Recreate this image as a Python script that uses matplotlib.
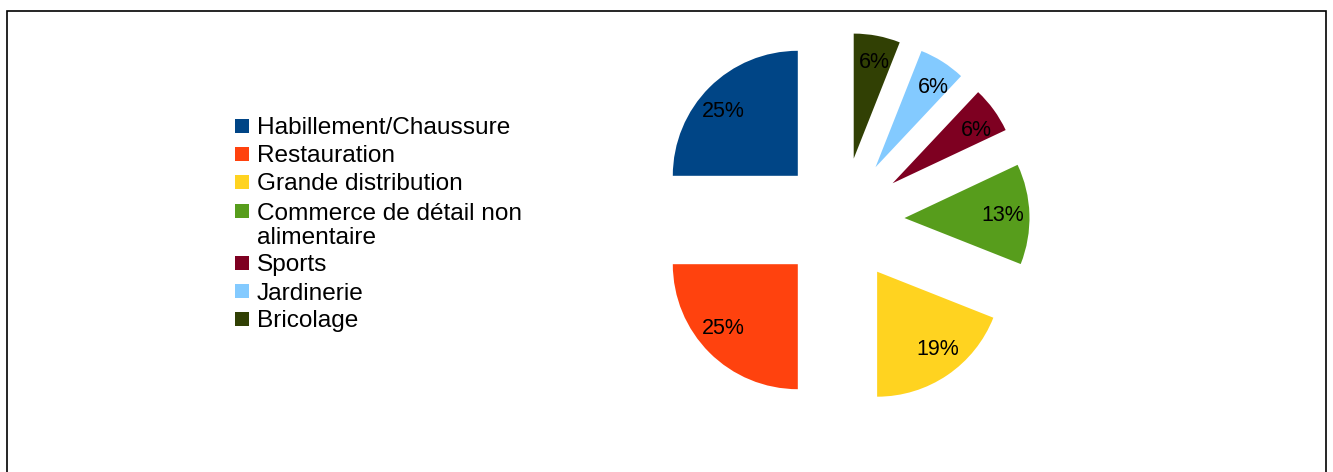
import matplotlib
matplotlib.use("Agg")
import numpy as np
import matplotlib.pyplot as plt
from matplotlib.patches import Rectangle

categories = ["Habillement/Chaussure", "Restauration", "Grande distribution",
              "Commerce de détail non\nalimentaire", "Sports", "Jardinerie", "Bricolage"]
values = [25, 25, 19, 13, 6, 6, 6]
colors = ["#004586", "#ff420e", "#ffd320", "#579d1c", "#7e0021", "#83caff", "#314004"]

plt.rcParams['font.family'] = ['Liberation Sans', 'DejaVu Sans']

W, H = 1333, 472
fig = plt.figure(figsize=(W / 100, H / 100), dpi=100)

# pie axes: center (842, 220) px from top, radius 125 px
cx, cy, R = 842, 220, 125
S = 400
ax = fig.add_axes([(cx - S / 2) / W, (H - cy - S / 2) / H, S / W, S / H])
wedges, texts, autotexts = ax.pie(values, colors=colors, startangle=90, counterclock=True,
                                  explode=[0.5] * len(values), radius=1,
                                  autopct='%.0f%%', pctdistance=0.79,
                                  textprops=dict(fontsize=15.5, color='black'))
# nudge percentage labels slightly toward the horizontal (as in the reference layout)
for w, t in zip(wedges, autotexts):
    th = np.deg2rad((w.theta1 + w.theta2) / 2)
    th2 = th - np.deg2rad(4) * np.sin(2 * th)
    c = w.center
    t.set_position((c[0] + 0.79 * np.cos(th2), c[1] + 0.79 * np.sin(th2)))
L = S / 2 / R
ax.set_xlim(-L, L)
ax.set_ylim(-L, L)
ax.set_aspect('equal')
ax.axis('off')

# legend (manual layout)
row_y = [126, 154, 182, 211, 263, 291, 319]
sq = 14
for name, col, y in zip(categories, colors, row_y):
    fig.add_artist(Rectangle((235 / W, (H - y - sq / 2) / H), sq / W, sq / H,
                             transform=fig.transFigure, facecolor=col, edgecolor='none'))
    lines = name.split("\n")
    for i, line in enumerate(lines):
        fig.text(257 / W, (H - y - 24 * i) / H, line, fontsize=17.6, ha='left',
                 va='center_baseline', color='black')

# outer frame
fig.add_artist(Rectangle((7.5 / W, -0.1), (1326 - 7.5) / W, 1.1 - 10.5 / H,
                         transform=fig.transFigure, fill=False, edgecolor='black', linewidth=1.2))

fig.savefig("out.png", dpi=100)
